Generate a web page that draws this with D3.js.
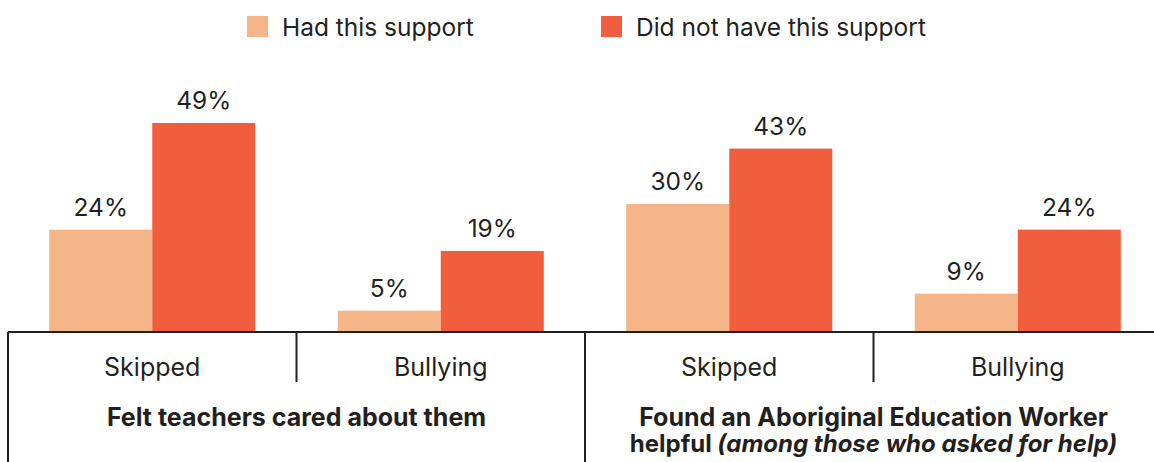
<!DOCTYPE html>
<html>
<head>
<meta charset="utf-8">
<script src="https://cdn.jsdelivr.net/npm/d3@7"></script>
<style>
  html, body { margin: 0; padding: 0; background: #fff; }
  svg { display: block; font-family: Inter, "Noto Sans", sans-serif; }
</style>
</head>
<body>
<svg id="chart" width="1154" height="462"></svg>
<script>
// Survey outcomes by whether the student had a given support
const groups = ["Felt teachers cared about them", "Found an Aboriginal Education Worker"];
const groupSubtitle = ["", "helpful"];
const groupNote = ["", "(among those who asked for help)"];
const measures = ["Skipped", "Bullying"];
const series = ["Had this support", "Did not have this support"];
const hadSupport = [24, 5, 30, 9];
const noSupport = [49, 19, 43, 24];

const colors = ["#F4B688", "#F15E3D"];
const ink = "#231F20";

const svg = d3.select("#chart");
const baseY = 332;

// one cell per group × measure
const cells = [];
groups.forEach((g, gi) => measures.forEach((m, mi) => {
  const i = gi * measures.length + mi;
  cells.push({ key: gi + "|" + m, group: gi, measure: m, values: [hadSupport[i], noSupport[i]] });
}));

const x = d3.scaleBand().domain(cells.map(c => c.key)).range([8, 1162]).padding(0);
const xs = d3.scaleBand().domain(series).range([0, x.bandwidth()]).paddingInner(0).paddingOuter(0.4);
const y = d3.scaleLinear().domain([0, 49]).range([baseY, 123]);

// legend
const legendX = [247, 601];
const legend = svg.append("g").selectAll("g").data(series).join("g")
  .attr("transform", (d, i) => `translate(${legendX[i]},16)`);
legend.append("rect").attr("width", 21).attr("height", 21).attr("fill", (d, i) => colors[i]);
legend.append("text").attr("x", 35).attr("y", 20).attr("font-size", 24.5).attr("fill", ink).text(d => d);

// bars and value labels
const cellG = svg.append("g").selectAll("g").data(cells).join("g")
  .attr("transform", d => `translate(${x(d.key)},0)`);
cellG.selectAll("rect").data(d => d.values.map((v, i) => ({ v, s: series[i], i }))).join("rect")
  .attr("x", d => xs(d.s)).attr("width", xs.bandwidth())
  .attr("y", d => y(d.v)).attr("height", d => baseY - y(d.v))
  .attr("fill", d => colors[d.i]);
cellG.selectAll("text.val").data(d => d.values.map((v, i) => ({ v, s: series[i] }))).join("text")
  .attr("class", "val")
  .attr("x", d => xs(d.s) + xs.bandwidth() / 2).attr("y", d => y(d.v) - 14)
  .attr("text-anchor", "middle").attr("font-size", 24.5).attr("fill", ink)
  .text(d => d.v + "%");

// category axis
const axis = svg.append("g").attr("stroke", ink).attr("stroke-width", 2);
axis.append("line").attr("x1", 8).attr("x2", 1154).attr("y1", baseY).attr("y2", baseY);
cells.forEach((c, i) => {
  const left = x(c.key);
  const major = i % measures.length === 0;
  axis.append("line").attr("x1", left).attr("x2", left)
    .attr("y1", baseY).attr("y2", major ? 462 : 382);
});

svg.append("g").selectAll("text").data(cells).join("text")
  .attr("x", d => x(d.key) + x.bandwidth() / 2).attr("y", 376)
  .attr("text-anchor", "middle").attr("font-size", 25).attr("fill", ink)
  .text(d => d.measure);

// group labels
groups.forEach((g, gi) => {
  const first = x(gi + "|" + measures[0]);
  const last = x(gi + "|" + measures[measures.length - 1]) + x.bandwidth();
  const cx = (first + last) / 2;
  const t = svg.append("text").attr("x", cx).attr("y", 426)
    .attr("text-anchor", "middle").attr("font-size", 25).attr("font-weight", 700).attr("fill", ink);
  t.append("tspan").attr("x", cx).text(g);
  if (groupSubtitle[gi]) {
    const t2 = t.append("tspan").attr("x", cx).attr("dy", 26).attr("font-size", 24);
    t2.append("tspan").text(groupSubtitle[gi] + " ");
    t2.append("tspan").attr("font-style", "italic").text(groupNote[gi]);
  }
});
</script>
</body>
</html>
